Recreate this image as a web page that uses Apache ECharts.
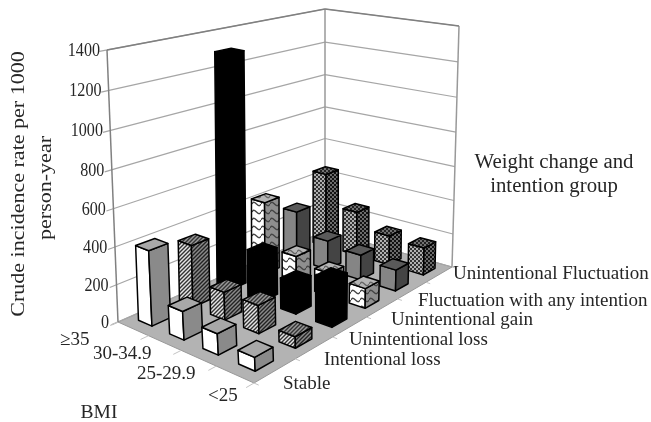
<!DOCTYPE html>
<html><head><meta charset="utf-8">
<style>html,body{margin:0;padding:0;background:#fff}#c{width:651px;height:422px}</style>
<script src="https://cdn.jsdelivr.net/npm/echarts@6/dist/echarts.min.js"></script>
</head><body><div id="c"></div>
<script>
const bmiLabels = ['≥35','30-34.9','25-29.9','<25'];
const groupLabels = ['Stable','Intentional loss','Unintentional loss','Unintentional gain','Fluctuation with any intention','Unintentional Fluctuation'];
const yTicks = [0,200,400,600,800,1000,1200,1400];
const stable = [400,150,110,70];
const intentionalLoss = [340,150,150,60];
const unintentionalLoss = [1300,265,170,250];
const unintentionalGain = [420,165,130,110];
const fluctuationAny = [290,170,145,120];
const unintentionalFluct = [450,265,175,160];
const seriesRows = [stable,intentionalLoss,unintentionalLoss,unintentionalGain,fluctuationAny,unintentionalFluct];
const yTitle = ['Crude incidence rate per 1000','person-year'];
const groupTitle = ['Weight change and','intention group'];

// projection
function homography(p){
  const [x0,y0]=p[0],[x1,y1]=p[1],[x2,y2]=p[2],[x3,y3]=p[3];
  const sx=x0-x1+x2-x3, sy=y0-y1+y2-y3, dx1=x1-x2, dx2=x3-x2, dy1=y1-y2, dy2=y3-y2;
  const den=dx1*dy2-dx2*dy1, g=(sx*dy2-dx2*sy)/den, h=(dx1*sy-sx*dy1)/den;
  const a=x1-x0+g*x1,b=x3-x0+h*x3,d=y1-y0+g*y1,e=y3-y0+h*y3;
  return (u,v)=>{const w=g*u+h*v+1;return [(a*u+b*v+x0)/w,(d*u+e*v+y0)/w];};
}
const floorH = homography([[118,322],[254,383],[452,267],[325,231]]);
const topH = homography([[107,50],[240,88],[459,26],[325,9]]);
const yMax = yTicks[yTicks.length-1];
function P(api,u,v,val){
  const f=floorH(u,v), t=topH(u,v), r=val/yMax, k=r/(1+0.05*(1-r));
  return api.coord([f[0]+(t[0]-f[0])*k, f[1]+(t[1]-f[1])*k]);
}

// patterns
function tile(w,h,draw){const c=document.createElement('canvas');c.width=w;c.height=h;draw(c.getContext('2d'));return {image:c,repeat:'repeat'};}
function dots(bg,fg){return tile(4,4,x=>{x.fillStyle=fg;x.fillRect(0,0,4,4);x.fillStyle=bg;x.beginPath();x.arc(1,1,0.9,0,7);x.arc(3,3,0.9,0,7);x.fill();});}
function hatch(bg,fg){return tile(4,4,x=>{x.fillStyle=bg;x.fillRect(0,0,4,4);x.strokeStyle=fg;x.lineWidth=1.4;x.beginPath();x.moveTo(-1,5);x.lineTo(5,-1);x.moveTo(-1,1);x.lineTo(1,-1);x.moveTo(3,5);x.lineTo(5,3);x.stroke();});}
function wave(bg,fg){return tile(9,8,x=>{x.fillStyle=bg;x.fillRect(0,0,9,8);x.strokeStyle=fg;x.lineWidth=1.3;x.beginPath();x.moveTo(0,4);x.bezierCurveTo(3,-2,6,10,9,4);x.stroke();});}
const faceStyles = [
  {l:'#ffffff',r:'#8a8a8a',t:'#a8a8a8'},
  {l:hatch('#e6e6e6','#333'),r:hatch('#8a8a8a','#222'),t:hatch('#999','#333')},
  {l:'#000',r:'#000',t:'#000'},
  {l:wave('#ffffff','#444'),r:wave('#8e8e8e','#444'),t:wave('#b5b5b5','#666')},
  {l:'#858585',r:'#444444',t:'#5a5a5a'},
  {l:dots('#eeeeee','#333'),r:dots('#999999','#111'),t:dots('#999','#222')}
];

const barData=[];
for(let j=seriesRows.length-1;j>=0;j--) for(let i=0;i<bmiLabels.length;i++) barData.push([i,j,seriesRows[j][i]]);

const nU=bmiLabels.length,nV=groupLabels.length,barFrac=0.44;
function renderBar(params,api){
  const i=api.value(0),j=api.value(1),val=api.value(2);
  const u0=(i+.5-barFrac/2)/nU,u1=(i+.5+barFrac/2)/nU,v0=(j+.5-barFrac/2)/nV,v1=(j+.5+barFrac/2)/nV;
  const s=faceStyles[j];
  const poly=(pts,fill)=>({type:'polygon',shape:{points:pts},style:{fill,stroke:'#000',lineWidth:1.5,lineJoin:'round'}});
  return {type:'group',children:[
    poly([P(api,u0,v0,0),P(api,u1,v0,0),P(api,u1,v0,val),P(api,u0,v0,val)],s.l),
    poly([P(api,u1,v0,0),P(api,u1,v1,0),P(api,u1,v1,val),P(api,u1,v0,val)],s.r),
    poly([P(api,u0,v0,val),P(api,u1,v0,val),P(api,u1,v1,val),P(api,u0,v1,val)],s.t)
  ]};
}
function renderFrame(params,api){
  const ch=[];
  const line=(a,b,c,w)=>ch.push({type:'line',shape:{x1:a[0],y1:a[1],x2:b[0],y2:b[1]},style:{stroke:c,lineWidth:w}});
  ch.push({type:'polygon',shape:{points:[P(api,0,0,0),P(api,1,0,0),P(api,1,1,0),P(api,0,1,0)]},style:{fill:'#b3b3b3',stroke:'#999',lineWidth:1}});
  yTicks.forEach(t=>{
    line(P(api,0,-0.025,t),P(api,0,1,t),'#a6a6a6',1.2);
    line(P(api,0,1,t),P(api,1,1,t),'#a6a6a6',1.2);
  });
  line(P(api,0,0,0),P(api,0,0,yMax),'#808080',1.5);
  line(P(api,0,1,0),P(api,0,1,yMax),'#999',1.5);
  line(P(api,1,1,0),P(api,1,1,yMax),'#999',1.5);
  line(P(api,0,0,yMax),P(api,0,1,yMax),'#808080',1.5);
  line(P(api,0,1,yMax),P(api,1,1,yMax),'#808080',1.5);
  for(let k=0;k<=nU;k++) line(P(api,k/nU,0,0),P(api,k/nU,-0.03,0),'#c4c4c4',1);
  for(let k=0;k<=nV;k++) line(P(api,1,k/nV,0),P(api,1.03,k/nV,0),'#c4c4c4',1);
  return {type:'group',children:ch};
}
const txt=(text,x,y,o={})=>({type:'text',x,y,rotation:o.rot||0,scaleX:o.sx||1,style:{text,fill:'#262626',font:(o.size||17)+'px "Liberation Serif"',align:o.align||'left',verticalAlign:'middle'}});
const bmiPos=[[60,340],[93,354],[137,374],[208,396]];
const groupPos=[[283,384],[324,360],[349,340],[391,320],[418,301],[453,274]];
function renderText(params,api){
  const ch=[];
  yTicks.forEach(t=>{const p=P(api,0,0,t);ch.push(txt(String(t),p[0]-(t===0?8:7)-(yMax-t)/yMax*1,p[1]+1,{align:'right',size:18.5,sx:0.87}));});
  bmiLabels.forEach((s,k)=>ch.push(txt(s,api.coord(bmiPos[k])[0],api.coord(bmiPos[k])[1],{size:19})));
  groupLabels.forEach((s,k)=>ch.push(txt(s,api.coord(groupPos[k])[0],api.coord(groupPos[k])[1],{size:19})));
  ch.push(txt(yTitle[0],19,184,{rot:Math.PI/2,align:'center',size:19,sx:1.16}));
  ch.push(txt(yTitle[1],46,188,{rot:Math.PI/2,align:'center',size:19,sx:1.16}));
  ch.push(txt(groupTitle[0],554,163,{align:'center',size:20.8}));
  ch.push(txt(groupTitle[1],554,187,{align:'center',size:20.8}));
  ch.push(txt('BMI',99,413,{align:'center',size:19.5}));
  return {type:'group',children:ch};
}
const chart=echarts.init(document.getElementById('c'),null,{renderer:'canvas',width:651,height:422});
chart.setOption({
  animation:false,backgroundColor:'#fff',
  grid:{left:0,right:0,top:0,bottom:0},
  xAxis:{type:'value',min:0,max:651,show:false},
  yAxis:{type:'value',min:0,max:422,inverse:true,show:false},
  series:[
    {type:'custom',name:'frame',z:1,silent:true,clip:false,data:[[0,0]],renderItem:renderFrame},
    {type:'custom',name:'bars',z:2,silent:true,clip:false,data:barData,renderItem:renderBar},
    {type:'custom',name:'labels',z:3,silent:true,clip:false,data:[[0,0]],renderItem:renderText}
  ]
});
</script></body></html>
